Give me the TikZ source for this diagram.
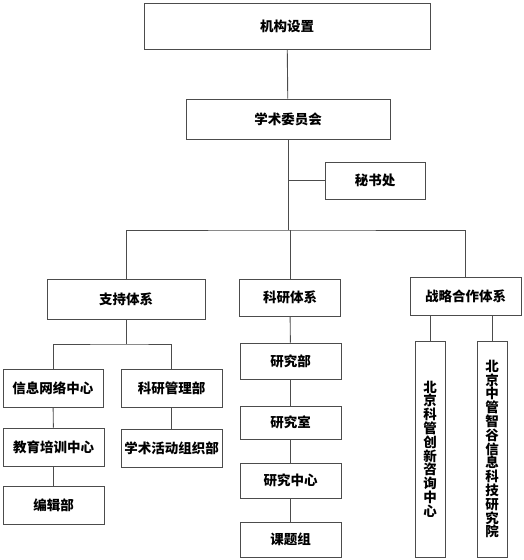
\documentclass[tikz,border=0pt]{standalone}
\usepackage{fontspec}
\newfontfamily\cjk{Noto Sans CJK SC}
\usetikzlibrary{positioning}

\begin{document}
\begin{tikzpicture}[
  x=1pt, y=-1pt,
  font=\cjk\bfseries\fontsize{13.5}{13.8}\selectfont,
  bx/.style  ={draw=black!70, line width=0.9pt, align=center, inner sep=0pt,
               minimum width=101pt, minimum height=38pt},
  vbx/.style ={bx, minimum width=30pt, minimum height=216pt},
  ln/.style  ={draw=black!70, line width=0.9pt},
]
\useasboundingbox (0,0) rectangle (524,560);

% ---- top ----
\node[bx, minimum width=286pt, minimum height=46pt] (top)  at (287,26)  {机构设置};
\node[bx, minimum width=204pt, minimum height=40pt] (acad) at (288,119) {学术委员会};
\node[bx, minimum width=100pt, minimum height=37pt] (sec)  at (375,180.5) {秘书处};

% ---- three systems ----
\node[bx, minimum width=158pt, minimum height=40pt] (sup)   at (126,299)   {支持体系};
\node[bx, minimum height=37pt]                      (res)   at (290,297.5) {科研体系};
\node[bx, minimum width=111pt]                      (strat) at (465.5,296) {战略合作体系};

% ---- support ----
\node[bx, minimum width=100pt] (info) at (53,388)    {信息网络中心};
\node[bx]                      (mgmt) at (171.5,388) {科研管理部};
\node[bx]                      (edu)  at (53.5,447)  {教育培训中心};
\node[bx]                      (acts) at (171.5,448) {学术活动组织部};
\node[bx]                      (edit) at (53.5,505)  {编辑部};

% ---- research ----
\node[bx, minimum height=36pt] (dept) at (290.5,361)   {研究部};
\node[bx, minimum height=33pt] (room) at (290.5,422.5) {研究室};
\node[bx, minimum height=35pt] (cent) at (290.5,480.5) {研究中心};
\node[bx, minimum height=35pt] (grp)  at (290.5,539.5) {课题组};

% ---- strategic ----
\node[vbx] (bj1) at (430,449) {北\\京\\科\\管\\创\\新\\咨\\询\\中\\心};
\node[vbx] (bj2) at (492,449) {北\\京\\中\\管\\智\\谷\\信\\息\\科\\技\\研\\究\\院};

% ---- edges ----
\coordinate (hub)  at (288,230);
\coordinate (supj) at (126,344);
\draw[ln] (top) -- (acad);
\draw[ln] (acad) -- (hub);
\draw[ln] (sec.west) -- (sec.west -| acad.south);
\draw[ln] (sup.north) |- (hub) -| (strat.north);
\draw[ln] (res.north) -- (res.north |- hub);
\draw[ln] (sup.south) -- (supj);
\draw[ln] (info.north) |- (supj) -| (mgmt.north);
\draw[ln] (info) -- (edu);
\draw[ln] (edu) -- (edit);
\draw[ln] (mgmt) -- (acts);
\draw[ln] (res) -- (dept);
\draw[ln] (dept) -- (room);
\draw[ln] (room) -- (cent);
\draw[ln] (cent) -- (grp);
\draw[ln] (bj1.north |- strat.south) -- (bj1.north);
\draw[ln] (bj2.north |- strat.south) -- (bj2.north);
\end{tikzpicture}
\end{document}
